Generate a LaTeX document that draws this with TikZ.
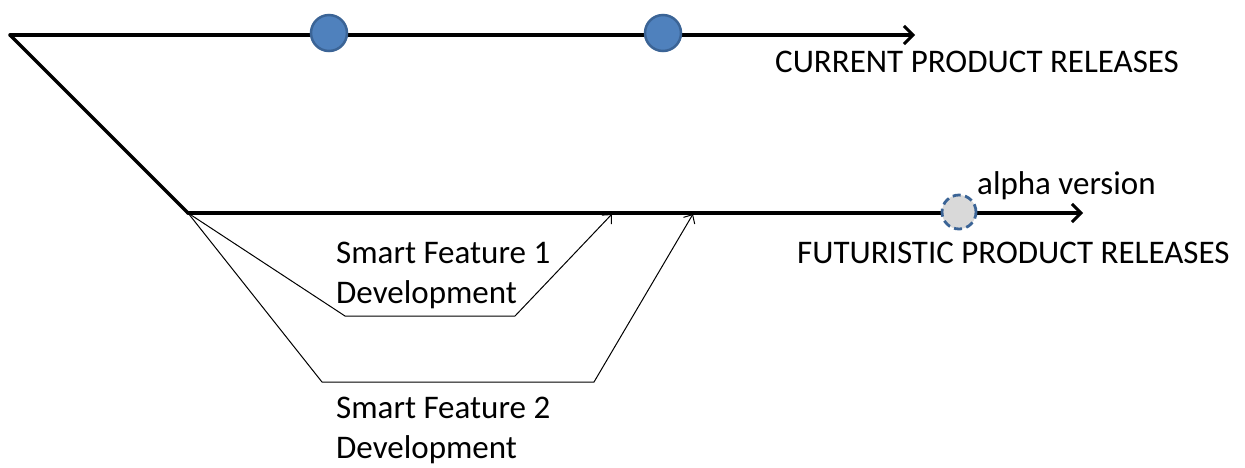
\documentclass[tikz,border=0pt]{standalone}
\usepackage{fontspec}
\setmainfont{Carlito}
\usetikzlibrary{arrows.meta}
\definecolor{relblue}{HTML}{4F81BD}
\definecolor{relblueedge}{HTML}{3B6496}
\definecolor{alphagray}{HTML}{D9D9D9}
\tikzset{
  mainline/.style={line width=3.5pt, line cap=round, line join=round},
  mainarrow/.style={mainline, -{Straight Barb[length=9pt,width=18pt,line width=3pt]}},
  featline/.style={line width=1pt, line join=miter, -{Straight Barb[length=7pt,width=13pt,line width=1pt]}},
  release/.style={circle, minimum size=36pt, inner sep=0pt, fill=relblue, draw=relblueedge, line width=2.5pt},
  alpharel/.style={circle, minimum size=34pt, inner sep=0pt, fill=alphagray, draw=relblueedge, line width=2.8pt, dash pattern=on 8pt off 4.5pt},
  lbl/.style={anchor=base west, inner sep=0pt, font=\fontsize{33}{40}\selectfont, align=left}
}
\begin{document}
\begin{tikzpicture}[x=1pt,y=-1pt]
\useasboundingbox (0,0) rectangle (1245,467);
% branch points and track ends
\coordinate (root) at (10,35);
\coordinate (fork) at (188,213);
\coordinate (curend) at (915,35);
\coordinate (futend) at (1083,213);
% current product track
\draw[mainline] (fork) -- (root);
\draw[mainarrow] (root) -- (curend);
\node[release] (r1) at (329,33) {};
\node[release] (r2) at (663,33) {};
% futuristic product track
\draw[mainarrow] (fork) -- (futend);
\node[alpharel] (alpha) at (959,212) {};
% feature development branches
\coordinate (f1a) at (345,316);
\coordinate (f1b) at (515,316);
\coordinate (f1m) at (612,214);
\coordinate (f2a) at (322,382);
\coordinate (f2b) at (594,382);
\coordinate (f2m) at (693,214);
\draw[featline] (fork) -- (f1a) -- (f1b) -- (f1m);
\draw[featline] (fork) -- (f2a) -- (f2b) -- (f2m);
% labels (multi-line nodes sit on the baseline of their last line)
\node[lbl] (curlbl) at (775,72) {CURRENT PRODUCT RELEASES};
\node[lbl] (alphalbl) at (977,194) {alpha version};
\node[lbl] (futlbl) at (797,263) {FUTURISTIC PRODUCT RELEASES};
\node[lbl] (f1lbl) at (336,303) {Smart Feature 1\\Development};
\node[lbl] (f2lbl) at (336,458) {Smart Feature 2\\Development};
\end{tikzpicture}
\end{document}
